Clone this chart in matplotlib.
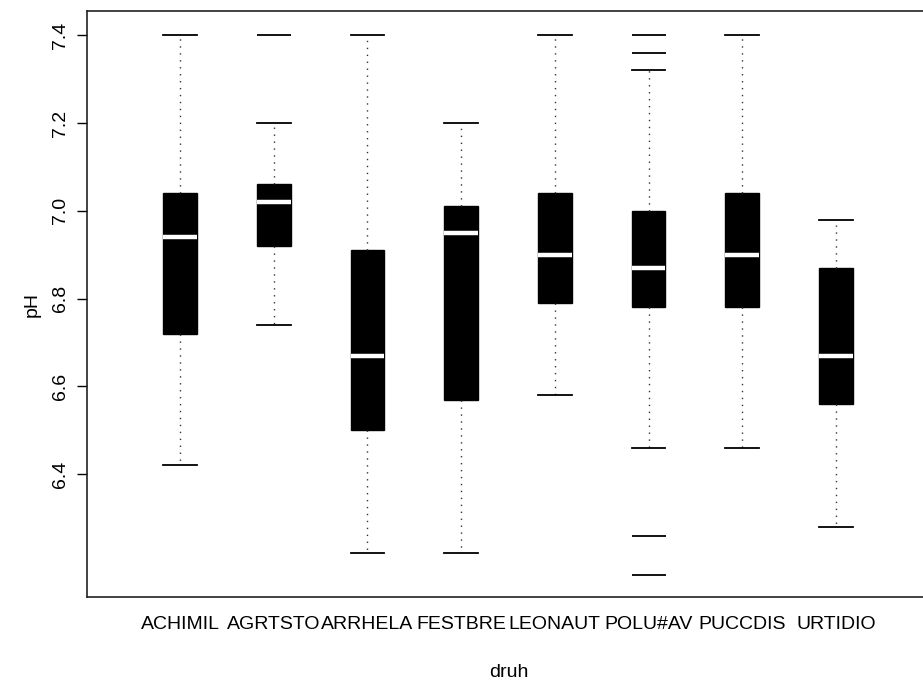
import matplotlib
matplotlib.use('Agg')
import matplotlib.pyplot as plt

# pH podle druhu
druhy = ['ACHIMIL', 'AGRTSTO', 'ARRHELA', 'FESTBRE', 'LEONAUT', 'POLU#AV', 'PUCCDIS', 'URTIDIO']
horni_vous = [7.40, 7.20, 7.40, 7.20, 7.40, 7.32, 7.40, 6.98]
q3 = [7.04, 7.06, 6.91, 7.01, 7.04, 7.00, 7.04, 6.87]
median = [6.94, 7.02, 6.67, 6.95, 6.90, 6.87, 6.90, 6.67]
q1 = [6.72, 6.92, 6.50, 6.57, 6.79, 6.78, 6.78, 6.56]
dolni_vous = [6.42, 6.74, 6.22, 6.22, 6.58, 6.46, 6.46, 6.28]
odlehle = [[], [7.40], [], [], [], [7.40, 7.36, 6.26, 6.17], [], []]

plt.rcParams['font.family'] = ['Liberation Sans', 'DejaVu Sans']

fig = plt.figure(figsize=(9.23, 6.82), dpi=100)
ax = fig.add_axes([0.0946, 0.1246, 0.9126, 0.8592])

stats = []
for i in range(len(druhy)):
    stats.append(dict(label=druhy[i], med=median[i], q1=q1[i], q3=q3[i],
                      whislo=dolni_vous[i], whishi=horni_vous[i], fliers=odlehle[i]))

ax.bxp(stats, positions=range(1, len(druhy) + 1), widths=0.36, capwidths=0.36,
       patch_artist=True,
       boxprops=dict(facecolor='black', edgecolor='black', linewidth=1),
       medianprops=dict(color='white', linewidth=3.2, solid_capstyle='butt'),
       whiskerprops=dict(color='#333333', linestyle=(0, (1, 4)), linewidth=1),
       capprops=dict(color='black', linewidth=1.3),
       flierprops=dict(marker='_', markersize=24, markeredgecolor='black',
                       markeredgewidth=1.3))

ax.set_xlim(0.01, 9.0)
ax.set_ylim(6.120, 7.455)
ax.set_yticks([6.4, 6.6, 6.8, 7.0, 7.2, 7.4])
ax.set_yticklabels(['6.4', '6.6', '6.8', '7.0', '7.2', '7.4'], rotation=90, va='center')
ax.tick_params(axis='y', length=7, width=1, pad=6, labelsize=14)
ax.tick_params(axis='x', length=0, pad=14, labelsize=14)

for s in ['left', 'bottom', 'top']:
    ax.spines[s].set_color('#222222')
    ax.spines[s].set_linewidth(1.2)
ax.spines['right'].set_visible(False)

ax.set_xlabel('druh', fontsize=14, labelpad=22)
ax.set_ylabel('pH', fontsize=14, labelpad=8)

fig.savefig('out.png', dpi=100)
